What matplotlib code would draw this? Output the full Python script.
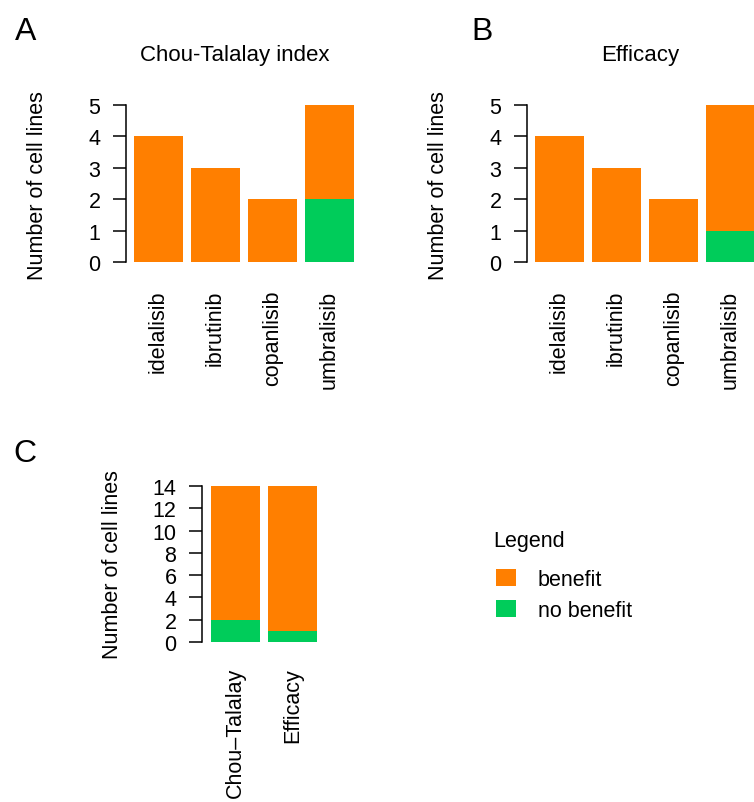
import matplotlib
matplotlib.use('Agg')
import matplotlib.pyplot as plt
from matplotlib.patches import Patch
import numpy as np

plt.rcParams['font.family'] = ['Liberation Sans', 'DejaVu Sans']

# Data
drugs = ['idelalisib', 'ibrutinib', 'copanlisib', 'umbralisib']
ct_benefit = [4, 3, 2, 3]
ct_no_benefit = [0, 0, 0, 2]
eff_benefit = [4, 3, 2, 4]
eff_no_benefit = [0, 0, 0, 1]
methods = ['Chou\u2013Talalay', 'Efficacy']
tot_benefit = [12, 13]
tot_no_benefit = [2, 1]

orange = '#FF7F00'
green = '#00CC5A'
fs = 15.5
W, H = 754, 803

fig = plt.figure(figsize=(W / 100, H / 100), dpi=100)


def px_axes(x0, y_top, w, h):
    return fig.add_axes([x0 / W, 1 - (y_top + h) / H, w / W, h / H])


def stacked(ax, labels, nb, b, ymax, yticks, xlim, label_pad):
    x = np.arange(len(labels))
    ax.bar(x, nb, width=0.86, color=green, linewidth=0)
    ax.bar(x, b, width=0.86, bottom=nb, color=orange, linewidth=0)
    ax.set_xlim(*xlim)
    ax.set_ylim(0, ymax)
    for s in ['top', 'right', 'bottom']:
        ax.spines[s].set_visible(False)
    ax.spines['left'].set_linewidth(1.1)
    ax.set_yticks(yticks)
    ax.tick_params(axis='y', length=9.4, width=1.1, pad=9, labelsize=fs)
    ax.set_xticks(x)
    ax.set_xticklabels(labels, rotation=90, fontsize=fs)
    ax.tick_params(axis='x', length=0, pad=label_pad)


# Panel A
axA = px_axes(126, 106, 236, 157)
stacked(axA, drugs, ct_no_benefit, ct_benefit, 5, range(6), (-0.57, 3.57), 20)
# Panel B (runs off the right edge, like the source figure)
axB = px_axes(527, 106, 236, 157)
stacked(axB, drugs, eff_no_benefit, eff_benefit, 5, range(6), (-0.57, 3.57), 20)
# Panel C
axC = px_axes(202, 487, 123, 156)
stacked(axC, methods, tot_no_benefit, tot_benefit, 14, range(0, 15, 2), (-0.59, 1.57), 18)

# y labels
for xb, yc in [(43, 186), (444, 186), (118, 565)]:
    fig.text(xb / W, 1 - yc / H, 'Number of cell lines', rotation=90,
             rotation_mode='anchor', ha='center', va='baseline', fontsize=fs)

# titles
fig.text(235 / W, 1 - 61 / H, 'Chou-Talalay index', ha='center', va='baseline', fontsize=16)
fig.text(640 / W, 1 - 61 / H, 'Efficacy', ha='center', va='baseline', fontsize=16)

# panel letters
fig.text(15 / W, 1 - 40 / H, 'A', ha='left', va='baseline', fontsize=23)
fig.text(471 / W, 1 - 40 / H, 'B', ha='left', va='baseline', fontsize=23)
fig.text(13 / W, 1 - 462 / H, 'C', ha='left', va='baseline', fontsize=23)

# legend
fig.text(493 / W, 1 - 547 / H, 'Legend', ha='left', va='baseline', fontsize=15.5)
handles = [Patch(facecolor=orange, edgecolor='none', label='benefit'),
           Patch(facecolor=green, edgecolor='none', label='no benefit')]
leg = fig.legend(handles=handles, loc='upper left',
                 bbox_to_anchor=(496 / W, 1 - 570 / H), frameon=False,
                 fontsize=fs, borderpad=0, borderaxespad=0,
                 handlelength=0.95, handleheight=0.85, handletextpad=1.0,
                 labelspacing=0.45)

fig.savefig('out.png', dpi=100)
